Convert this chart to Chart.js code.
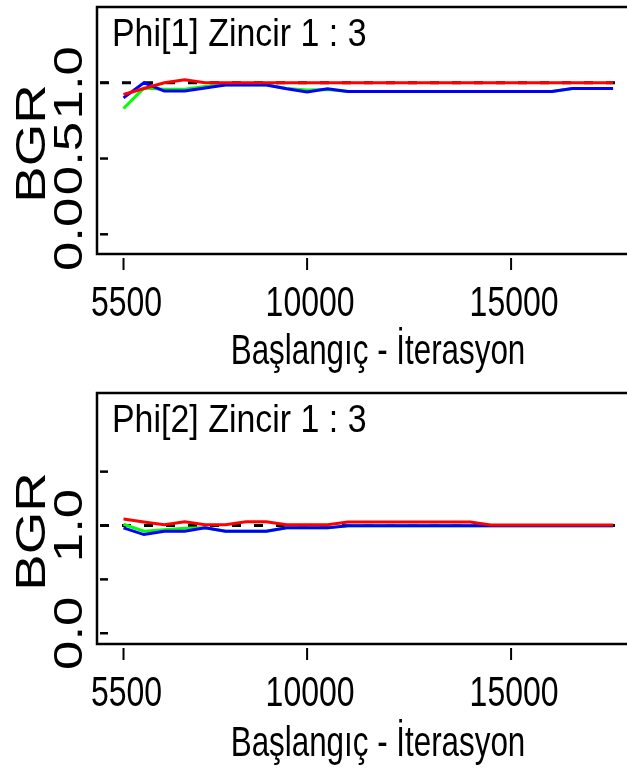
<!DOCTYPE html>
<html>
<head>
<meta charset="utf-8">
<script src="https://cdn.jsdelivr.net/npm/chart.js@4.4.1/dist/chart.umd.min.js"></script>
<style>
  html, body { margin: 0; padding: 0; background: #fff; overflow: hidden; }
  #wrap { width: 627px; height: 776px; overflow: hidden; position: relative; }
  .panel { position: absolute; left: 0; width: 640px; height: 388px; }
</style>
</head>
<body>
<div id="wrap">
  <div class="panel" style="top:0"><canvas id="c1" width="640" height="388"></canvas></div>
  <div class="panel" style="top:388px"><canvas id="c2" width="640" height="388"></canvas></div>
</div>
<script>
// iteration (start) positions
const iterations = [5500, 6000, 6500, 7000, 7500, 8000, 8500, 9000, 9500, 10000, 10500, 11000,
  11500, 12000, 12500, 13000, 13500, 14000, 14500, 15000, 15500, 16000, 16500, 17000, 17500];

// Phi[1]
const phi1Red = [0.923, 0.962, 1.0, 1.02, 1.0, 1.0, 1.0, 1.0, 1.0, 1.0, 1.0, 1.0,
  1.0, 1.0, 1.0, 1.0, 1.0, 1.0, 1.0, 1.0, 1.0, 1.0, 1.0, 1.0, 1.0];
const phi1Green = [0.83, 0.965, 0.958, 0.958, 0.975, 0.987, 0.987, 0.987, 0.962, 0.953, 0.955, 0.943,
  0.943, 0.943, 0.943, 0.943, 0.943, 0.943, 0.943, 0.943, 0.943, 0.943, 0.962, 0.962, 0.962];
const phi1Blue = [0.90, 1.0, 0.945, 0.945, 0.965, 0.985, 0.985, 0.985, 0.96, 0.94, 0.96, 0.943,
  0.943, 0.943, 0.943, 0.943, 0.943, 0.943, 0.943, 0.943, 0.943, 0.943, 0.962, 0.962, 0.962];

// Phi[2]
const phi2Red = [1.06, 1.033, 1.008, 1.035, 1.008, 1.008, 1.035, 1.035, 1.008, 1.008, 1.008, 1.033,
  1.033, 1.033, 1.033, 1.033, 1.033, 1.033, 1.005, 1.005, 1.005, 1.005, 1.005, 1.005, 1.005];
const phi2Green = [1.012, 0.947, 0.96, 0.975, 0.98, 0.947, 0.947, 0.947, 0.978, 0.978, 0.978, 0.998,
  0.998, 0.998, 0.998, 0.998, 0.998, 0.998, 0.998, 0.998, 0.998, 0.998, 0.998, 0.998, 0.998];
const phi2Blue = [0.978, 0.916, 0.947, 0.947, 0.978, 0.947, 0.947, 0.947, 0.978, 0.978, 0.978, 0.998,
  0.998, 0.998, 0.998, 0.998, 0.998, 0.998, 0.998, 0.998, 0.998, 0.998, 0.998, 0.998, 0.998];

const xTicks = [5500, 10000, 15000];
const xTickLabels = ['5500', '10000', '15000'];
const yTicks1 = [0, 0.5, 1.0];
const yTickLabels1 = ['0.0', '0.5', '1.0'];
const yTicks2 = [0, 0.5, 1.0, 1.5];
const yTickLabels2 = ['0.0', '', '1.0', ''];
const refLevel = 1.0;

const xTitle = 'Başlangıç - İterasyon';
const yTitle = 'BGR';
const FONT = "'Liberation Sans', Arial, sans-serif";

const panels = [
  { canvas: 'c1', title: 'Phi[1] Zincir 1 : 3', red: phi1Red, green: phi1Green, blue: phi1Blue,
    yMin: -0.13, yMax: 1.5, yTicks: yTicks1, yLabels: yTickLabels1, top: 7, bottom: 254, titleGap: 110 },
  { canvas: 'c2', title: 'Phi[2] Zincir 1 : 3', red: phi2Red, green: phi2Green, blue: phi2Blue,
    yMin: -0.1, yMax: 2.23, yTicks: yTicks2, yLabels: yTickLabels2, top: 5, bottom: 256, titleGap: 112 }
];

const X_MIN = 4850, X_MAX = 18160;

function line(ctx, x1, y1, x2, y2) {
  ctx.beginPath();
  ctx.moveTo(x1, y1);
  ctx.lineTo(x2, y2);
  ctx.stroke();
}

// text stretched like the original (tall glyphs)
function text(ctx, s, x, y, align, size, sx, sy, rot) {
  ctx.save();
  ctx.translate(x, y);
  if (rot) ctx.rotate(rot);
  ctx.scale(sx, sy);
  ctx.font = size + 'px ' + FONT;
  ctx.textAlign = align;
  ctx.textBaseline = 'alphabetic';
  ctx.fillText(s, 0, 0);
  ctx.restore();
}

// box, ticks and all the texts
const frame = {
  id: 'frame',
  afterDatasetsDraw(chart, args, opts) {
    const { ctx, chartArea: a, scales: { x, y } } = chart;
    ctx.save();
    ctx.strokeStyle = '#000';
    ctx.fillStyle = '#000';
    ctx.lineWidth = 2.5;
    ctx.strokeRect(a.left, a.top, a.right - a.left, a.bottom - a.top);

    y.ticks.forEach(t => {
      const py = y.getPixelForValue(t.value);
      line(ctx, a.left + 3, py, a.left + 11, py);
    });
    ctx.lineWidth = 2;
    x.ticks.forEach(t => {
      const px = x.getPixelForValue(t.value);
      line(ctx, px, a.bottom + 4, px, a.bottom + 16);
    });

    // x tick labels + title
    x.ticks.forEach((t, i) => {
      text(ctx, xTickLabels[i], x.getPixelForValue(t.value) + 3, a.bottom + 62, 'center', 32, 1, 1.3);
    });
    text(ctx, xTitle, 378, a.bottom + opts.titleGap, 'center', 32, 0.98, 1.3);

    // panel title
    text(ctx, opts.title, a.left + 15, a.top + 39, 'left', 32, 1.06, 1.22);

    // rotated y labels
    y.ticks.forEach((t, i) => {
      const lab = opts.yLabels[i];
      if (!lab) return;
      text(ctx, lab, 82, y.getPixelForValue(t.value), 'center', 40, 1.32, 1, -Math.PI / 2);
    });
    text(ctx, yTitle, 45, (a.top + a.bottom) / 2 + 13, 'center', 42, 1.3, 1, -Math.PI / 2);
    ctx.restore();
  }
};

function pts(vals) {
  return iterations.map((it, i) => ({ x: it, y: vals[i] }));
}

panels.forEach(p => {
  const ds = (label, vals, color) => ({
    label, data: pts(vals), borderColor: color, borderWidth: 3,
    pointRadius: 0, tension: 0, fill: false
  });
  new Chart(document.getElementById(p.canvas), {
    type: 'line',
    data: {
      datasets: [
        ds('red', p.red, '#ff0000'),
        ds('blue', p.blue, '#0000ff'),
        ds('green', p.green, '#00ff00'),
        {
          label: 'ref', data: [{ x: X_MIN, y: refLevel }, { x: X_MAX, y: refLevel }],
          borderColor: '#000', borderWidth: 3, borderDash: [9, 13], borderDashOffset: 19,
          pointRadius: 0, fill: false
        }
      ]
    },
    options: {
      responsive: false,
      animation: false,
      devicePixelRatio: 1,
      layout: { padding: { top: p.top, left: 0, right: 0, bottom: 0 } },
      plugins: {
        legend: { display: false },
        tooltip: { enabled: false },
        frame: { title: p.title, yLabels: p.yLabels, titleGap: p.titleGap }
      },
      scales: {
        x: {
          type: 'linear', min: X_MIN, max: X_MAX,
          afterBuildTicks: s => { s.ticks = xTicks.map(v => ({ value: v })); },
          afterFit: s => { s.height = 388 - p.bottom; },
          ticks: { display: false },
          grid: { display: false },
          border: { display: false }
        },
        y: {
          type: 'linear', min: p.yMin, max: p.yMax,
          afterBuildTicks: s => { s.ticks = p.yTicks.map(v => ({ value: v })); },
          afterFit: s => { s.width = 97; },
          ticks: { display: false },
          grid: { display: false },
          border: { display: false }
        }
      }
    },
    plugins: [frame]
  });
});
</script>
</body>
</html>
